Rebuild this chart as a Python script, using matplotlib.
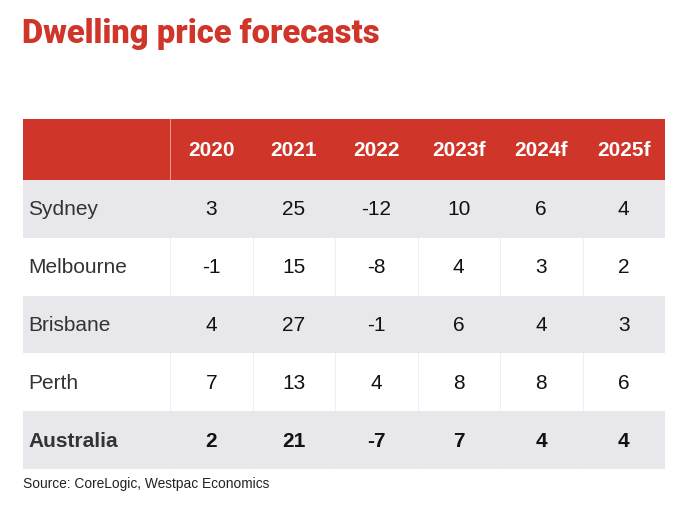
import matplotlib.pyplot as plt
from matplotlib.patches import Rectangle

# data
years = ['2020', '2021', '2022', '2023f', '2024f', '2025f']
cities = ['Sydney', 'Melbourne', 'Brisbane', 'Perth', 'Australia']
sydney = [3, 25, -12, 10, 6, 4]
melbourne = [-1, 15, -8, 4, 3, 2]
brisbane = [4, 27, -1, 6, 4, 3]
perth = [7, 13, 4, 8, 8, 6]
australia = [2, 21, -7, 7, 4, 4]
rows = [sydney, melbourne, brisbane, perth, australia]

red = '#D0352A'
grey = '#E8E7EC'

fig = plt.figure(figsize=(6.88, 5.24), dpi=100)
ax = fig.add_axes([0, 0, 1, 1])
ax.set_xlim(0, 688)
ax.set_ylim(524, 0)
ax.axis('off')

# layout (pixels)
left, right = 23, 665
first_w = 147
col_w = (right - left - first_w) / len(years)
head_top, head_h = 119, 61
row_h = 57.8

ax.text(left - 1, 34, 'Dwelling price forecasts', color=red, fontsize=23.6,
        fontweight='black', family=['Roboto', 'DejaVu Sans'],
        va='center', ha='left')

# header
ax.add_patch(Rectangle((left, head_top), right - left, head_h, color=red, lw=0))
ax.plot([left + first_w, left + first_w], [head_top, head_top + head_h],
        color='white', lw=0.6, alpha=0.6)
for j, y in enumerate(years):
    cx = left + first_w + col_w * (j + 0.5)
    ax.text(cx, head_top + head_h / 2 + 1, y, color='white', fontsize=15,
            fontweight='bold', family='Liberation Sans', ha='center', va='center')

# body
for i, (city, vals) in enumerate(zip(cities, rows)):
    top = head_top + head_h + i * row_h
    if i % 2 == 0:
        ax.add_patch(Rectangle((left, top), right - left, row_h, color=grey, lw=0))
    bold = city == 'Australia'
    cy = top + row_h / 2 + 1
    ax.text(left + 5, cy, city, color='#333333', fontsize=15,
            fontweight='bold' if bold else 'normal', family='Liberation Sans',
            ha='left', va='center')
    for j, v in enumerate(vals):
        cx = left + first_w + col_w * (j + 0.5)
        ax.text(cx, cy, str(v), color='#111111', fontsize=15,
                fontweight='bold' if bold else 'normal', family='Liberation Sans',
                ha='center', va='center')

# faint column separators
for k in range(len(years)):
    x = left + first_w + col_w * k
    ax.plot([x, x], [head_top + head_h, head_top + head_h + row_h * len(cities)],
            color='#EEEEF1', lw=0.8, zorder=0.5)

ax.text(left, 484, 'Source: CoreLogic, Westpac Economics', color='#222222',
        fontsize=9.9, family='Liberation Sans', ha='left', va='center')

fig.savefig('out.png', dpi=100, facecolor='white')
